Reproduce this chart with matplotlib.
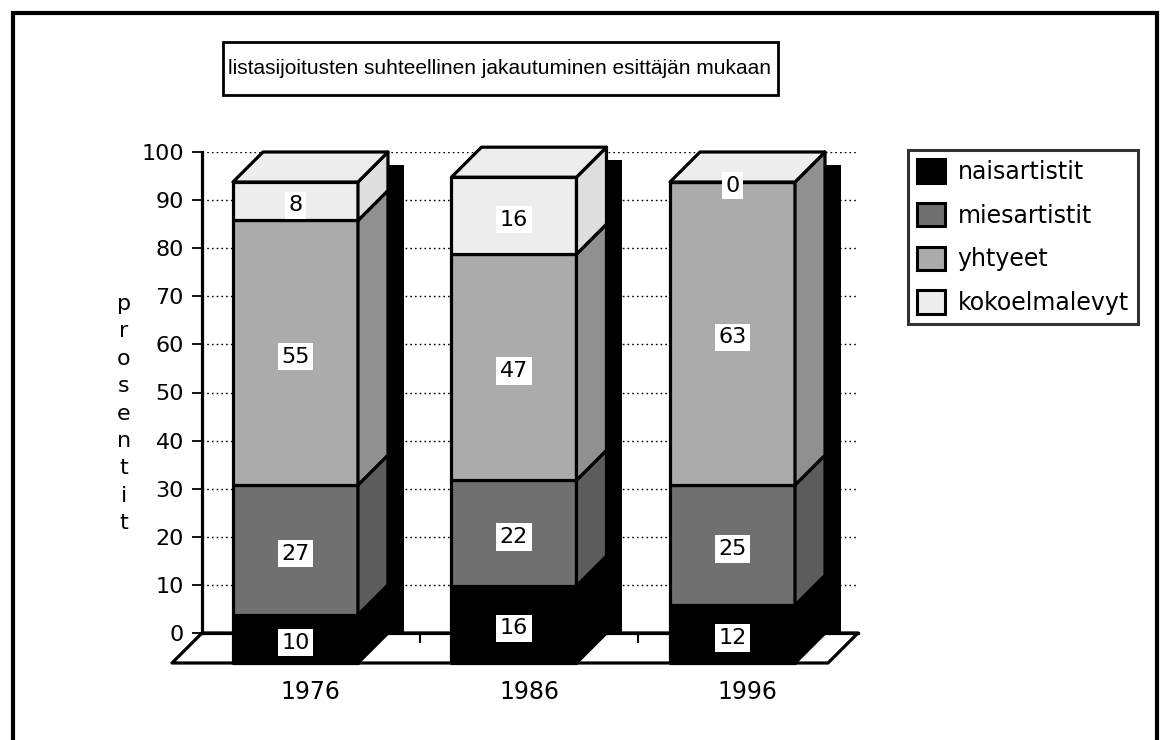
import matplotlib
matplotlib.use("Agg")
import matplotlib.pyplot as plt
from matplotlib.patches import Polygon, Rectangle, Patch

plt.rcParams["font.family"] = ["DejaVu Sans"]

# data
years = ["1976", "1986", "1996"]
series = ["naisartistit", "miesartistit", "yhtyeet", "kokoelmalevyt"]
naisartistit = [10, 16, 12]
miesartistit = [27, 22, 25]
yhtyeet = [55, 47, 63]
kokoelmalevyt = [8, 16, 0]
values = [naisartistit, miesartistit, yhtyeet, kokoelmalevyt]
yticks = list(range(0, 101, 10))

front_cols = ["#000000", "#707070", "#ababab", "#ededed"]
side_cols = ["#000000", "#5c5c5c", "#909090", "#dedede"]

W, H = 1161, 740
fig = plt.figure(figsize=(W / 100, H / 100), dpi=100)

# axes box = back wall of the 3d plot, in pixels
left_px, right_px, top_px, base_px = 202, 858, 152, 633
ax = fig.add_axes([left_px / W, 1 - base_px / H,
                   (right_px - left_px) / W, (base_px - top_px) / H])
x0, x1 = -0.565, 2.437
ax.set_xlim(x0, x1)
ax.set_ylim(0, 100)
px_x = (right_px - left_px) / (x1 - x0)
px_y = (base_px - top_px) / 100.0

dx = 30 / px_x        # depth offset, data units
dy = 30 / px_y
bw = 125 / px_x       # bar width
sh_w = 16 / px_x      # shadow width
sh_drop = 13 / px_y

lw = 2.3

# floor
floor = Polygon([(x0, 0), (x1, 0), (x1 - dx, -dy), (x0 - dx, -dy)],
                closed=True, facecolor="white", edgecolor="black",
                lw=lw, zorder=1, clip_on=False, joinstyle="round")
ax.add_patch(floor)

nseg = len(values)
for i in range(len(years)):
    total = sum(v[i] for v in values)
    # shadow on the back wall
    ax.add_patch(Rectangle((i + bw / 2, 0), sh_w, total - sh_drop,
                           facecolor="black", edgecolor="none", zorder=2,
                           clip_on=False))
    bottom = 0
    for k, v in enumerate(values):
        h = v[i]
        top = bottom + h
        fl, fr = i - dx - bw / 2, i - dx + bw / 2
        faces = [
            Polygon([(fl, bottom - dy), (fr, bottom - dy),
                     (fr, top - dy), (fl, top - dy)],
                    facecolor=front_cols[k]),
            Polygon([(fr, bottom - dy), (fr, top - dy),
                     (fr + dx, top), (fr + dx, bottom)],
                    facecolor=side_cols[k]),
        ]
        if k == nseg - 1:
            faces.append(Polygon([(fl, top - dy), (fr, top - dy),
                                  (fr + dx, top), (fl + dx, top)],
                                 facecolor=front_cols[k]))
        for p in faces:
            p.set_edgecolor("black")
            p.set_linewidth(lw)
            p.set_joinstyle("round")
            p.set_zorder(3)
            p.set_clip_on(False)
            ax.add_patch(p)
        ax.text(i - dx, (bottom + top) / 2 - dy - 0.8, str(h),
                ha="center", va="center", fontsize=16, zorder=4,
                bbox=dict(facecolor="white", edgecolor="none", pad=2.5))
        bottom = top

# axes styling
for s in ("top", "right"):
    ax.spines[s].set_visible(False)
ax.spines["left"].set_linewidth(lw)
ax.spines["bottom"].set_linewidth(lw)
ax.set_yticks(yticks)
ax.tick_params(axis="y", length=7, width=1.3, pad=6, labelsize=16)
ax.yaxis.grid(True, linestyle=(0, (1.2, 2.2)), color="black", lw=1)
ax.set_xticks([i + 0.5 - dx / 2 for i in range(len(years) - 1)])
ax.set_xticklabels([])
ax.set_xticks([i - dx / 2 for i in range(len(years))], minor=True)
ax.set_xticklabels(years, minor=True)
ax.tick_params(axis="x", which="major", length=7, width=1.5, direction="out")
ax.tick_params(axis="x", which="minor", length=0, pad=34, labelsize=17)
ax.set_facecolor("none")

# vertical axis title, one letter per line
label = "prosentit"
for j, ch in enumerate(label):
    fig.text(124 / W, 1 - (304 + 27.4 * j) / H, ch, ha="center",
             va="center", fontsize=16)

# title box
fig.add_artist(Rectangle((223 / W, 1 - 95 / H), (778 - 223) / W, 53 / H,
                         transform=fig.transFigure, fill=False,
                         edgecolor="black", lw=2))
fig.text(500 / W, 1 - 68 / H,
         "listasijoitusten suhteellinen jakautuminen esittäjän mukaan",
         ha="center", va="center", fontsize=15, family="Liberation Sans")

# legend
handles = [Patch(facecolor=c, edgecolor="black", lw=2.2) for c in front_cols]
leg = fig.legend(handles, series, loc="upper left",
                 bbox_to_anchor=(908 / W, 1 - 150 / H), fontsize=17,
                 frameon=True, fancybox=False, handlelength=1.15,
                 handleheight=1.15, handletextpad=0.55, labelspacing=0.8,
                 borderpad=0.4, borderaxespad=0)
leg.get_frame().set_edgecolor("black")
leg.get_frame().set_linewidth(2.2)

# outer frame (top, left, right)
fig.add_artist(Rectangle((13 / W, -0.1), (1157 - 13) / W, 1.1 - 13 / H,
                         transform=fig.transFigure, fill=False,
                         edgecolor="black", lw=3))

fig.savefig("out.png", dpi=100)
